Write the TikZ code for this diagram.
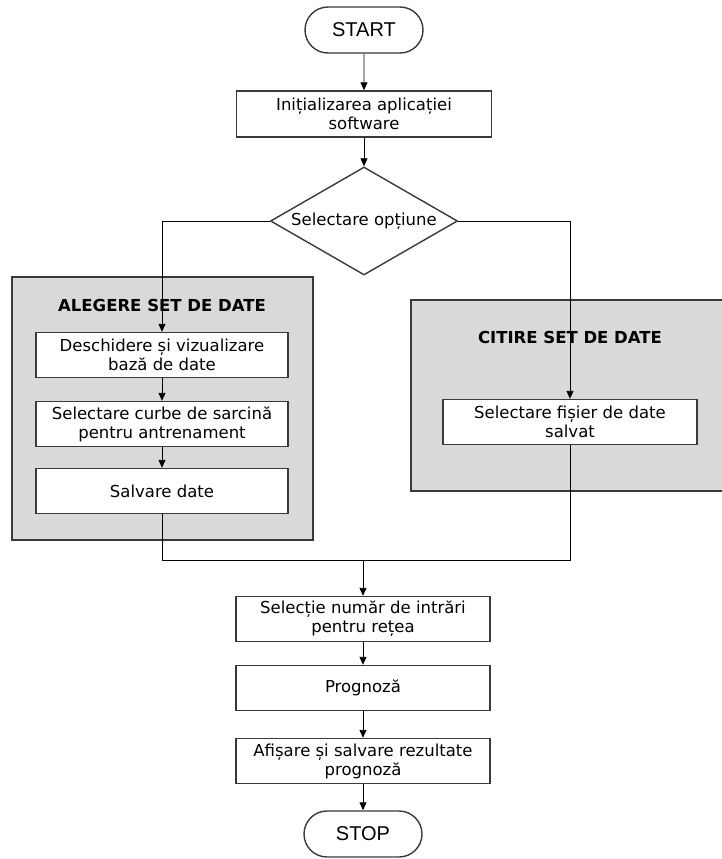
\documentclass[tikz,border=0pt]{standalone}
\usepackage{fontspec}
\setmainfont{DejaVu Sans}
\newfontfamily\termfont{Liberation Sans}
\usetikzlibrary{shapes.geometric,shapes.misc,arrows.meta}

\definecolor{groupgray}{HTML}{D9D9D9}
\definecolor{edgegray}{HTML}{3A3A3A}

\tikzset{
  every node/.style={font=\fontsize{16.5}{19}\selectfont},
  procbox/.style={draw=edgegray, line width=1.4pt, fill=white, rectangle,
    minimum width=253pt, minimum height=45pt, inner sep=0pt, align=center},
  termbox/.style={draw=edgegray, line width=1.4pt, fill=white, rounded rectangle,
    minimum width=118pt, minimum height=46pt, inner sep=0pt,
    font=\termfont\fontsize{20}{22}\selectfont},
  decbox/.style={draw=edgegray, line width=1.4pt, fill=white, diamond,
    minimum width=187pt, minimum height=108pt, inner sep=0pt},
  groupbox/.style={draw=edgegray, line width=1.4pt, fill=groupgray},
  grouptitle/.style={font=\bfseries\fontsize{16.5}{19}\selectfont},
  flow/.style={draw=black, line width=0.9pt},
  arr/.style={flow, -{Triangle[length=8pt,width=7pt]}}
}

\begin{document}
\begin{tikzpicture}[x=1pt,y=-1pt]
\useasboundingbox (0,0) rectangle (722,859);

% grey group panels
\draw[groupbox] (12,277) rectangle (313,540);
\draw[groupbox] (411,300) rectangle (740,491);
\node[grouptitle] (tleft) at (162,305) {ALEGERE SET DE DATE};
\node[grouptitle] (tright) at (570,337) {CITIRE SET DE DATE};

% merge points
\coordinate (mL) at (162,560);
\coordinate (mM) at (363,560);
\coordinate (mR) at (570,560);

% main column
\node[termbox] (start) at (364,30) {START};
\node[procbox, minimum width=255pt, minimum height=46pt] (init) at (364,114) {Inițializarea aplicației\\software};
\node[decbox] (dec) at (364,221) {};
\node (dectext) at (dec.center) {Selectare opțiune};

% left branch
\node[procbox, minimum width=252pt] (desc) at (162,355) {Deschidere și vizualizare\\bază de date};
\node[procbox, minimum width=252pt] (curbe) at (162,424) {Selectare curbe de sarcină\\pentru antrenament};
\node[procbox, minimum width=252pt] (salv) at (162,491) {Salvare date};

% right branch
\node[procbox, minimum width=254pt] (fis) at (570,422) {Selectare fișier de date\\salvat};

% lower column
\node[procbox, minimum width=254pt] (selnr) at (363,619) {Selecție număr de intrări\\pentru rețea};
\node[procbox, minimum width=254pt] (prog) at (363,688) {Prognoză};
\node[procbox, minimum width=254pt] (afis) at (363,761) {Afișare și salvare rezultate\\prognoză};
\node[termbox] (stop) at (363,834) {STOP};

% connectors
\draw[arr] (start) -- (init);
\draw[arr] (init) -- (dec);
\draw[arr] (dec.west) -| (desc.north);
\draw[arr] (dec.east) -| (fis.north);
\draw[arr] (desc) -- (curbe);
\draw[arr] (curbe) -- (salv);
\draw[flow] (salv.south) -- (mL) -- (mR) -- (fis.south);
\draw[arr] (mM) -- (selnr.north);
\draw[arr] (selnr) -- (prog);
\draw[arr] (prog) -- (afis);
\draw[arr] (afis) -- (stop);
\end{tikzpicture}
\end{document}
